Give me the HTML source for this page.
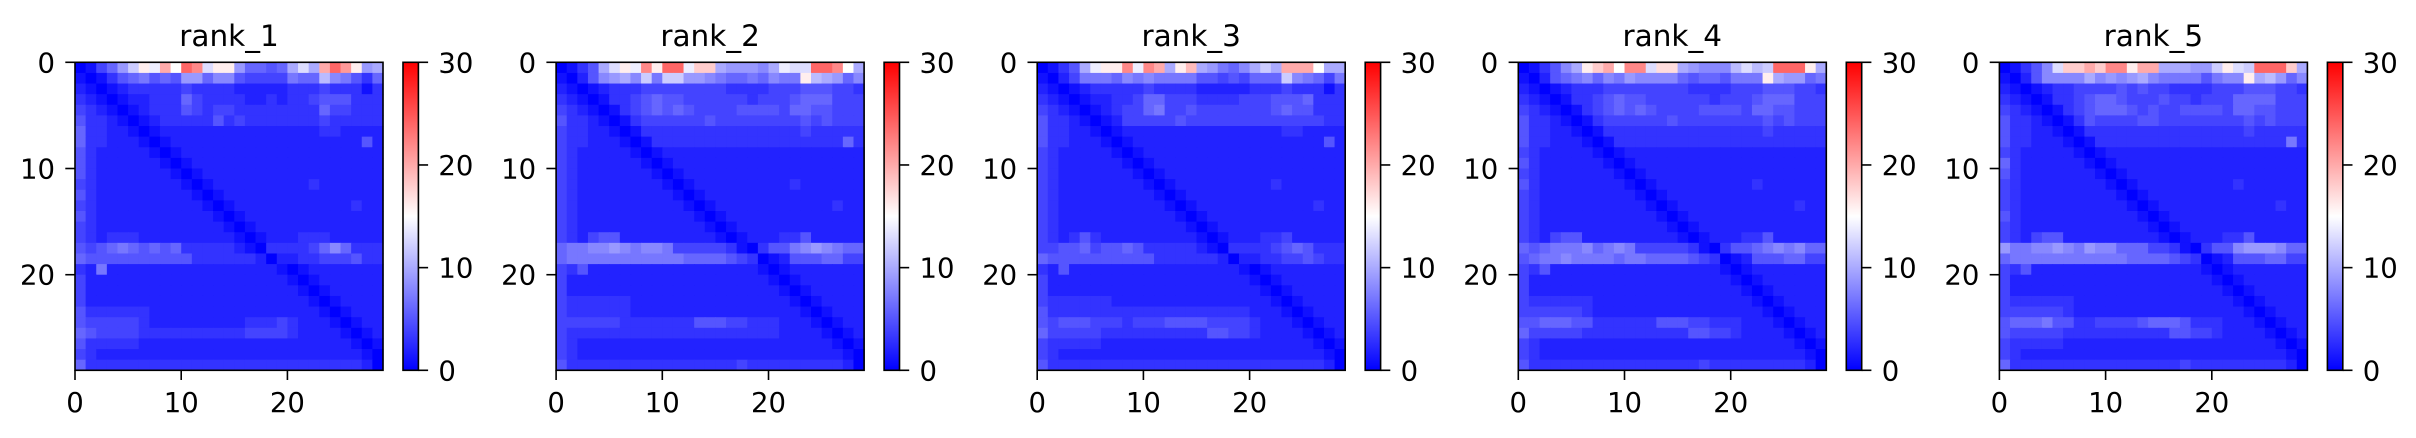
<!DOCTYPE html>
<html><head><meta charset="utf-8"><style>
html,body{margin:0;padding:0;background:#fff;}
svg{display:block;font-family:"DejaVu Sans","Liberation Sans",sans-serif;}
</style></head><body>
<svg id="chart" width="2416" height="438" viewBox="0 0 2416 438" xmlns="http://www.w3.org/2000/svg">
<defs>
<linearGradient id="bwr" x1="0" y1="1" x2="0" y2="0">
<stop offset="0" stop-color="#0000ff"/><stop offset="0.5" stop-color="#ffffff"/><stop offset="1" stop-color="#ff0000"/>
</linearGradient>
</defs>
</svg>
<script>
const titles = ["rank_1","rank_2","rank_3","rank_4","rank_5"];
const axisTicks = [0,10,20];
const cbarTicks = [0,10,20,30];
const vmin = 0, vmax = 30;
const P1 = [
"01469cgekfomdgg96656adakolg9a",
"10135675659968854444766b87536",
"21012333334333322222333433313",
"32101223336433332232334555333",
"43210123335434433333333644333",
"53321012333335343333333433333",
"63322101222222222222222332222",
"63322210122222222222222222252",
"53222221012222222222222222222",
"53222222101222222222222222222",
"53222222210122222222222222222",
"43222222221012222222223222222",
"53222222222101222222222222222",
"43222222222210122222222222322",
"53222222222221012222222222222",
"43222222222222101222222222222",
"43233322222222210122233322222",
"54567656563333321033334686333",
"65555555555333333202233444533",
"32722222222222222221012222222",
"42222222222222222222101222222",
"42222222222222222222210122222",
"42222222222222222222221012222",
"53333332222222222222222101222",
"54444432222222223334322210122",
"65444433333333334444322221012",
"53333322222222222222222222101",
"43222222222222222222222222210",
"63333333333333333333333333320"];
const P2 = [
"0135adgemgooeiia9998aeddoomfa",
"102589a8c7cc99876676877gba968",
"21012333444444443333444555443",
"32101334565544444434445666444",
"43210134565654444555546655444",
"53321013444444544444444545444",
"43322101333333333333333433333",
"43322210133333333333333333363",
"43222221012222222222222222222",
"43222222101222222222222222222",
"43222222210122222222222222222",
"43222222221012222222223222222",
"43222222222101222222222222222",
"43222222222210122222222222322",
"43222222222221012222222222222",
"43222222222222101222222222222",
"43245522222222210122233522222",
"67788987887444443103557898766",
"67777777777766665430125556644",
"43522222222222222221012222222",
"42222222222222222222101222222",
"42222222222222222222210122222",
"43333332222222222222221012222",
"43333332222222222222222101222",
"44444433333335554433322210122",
"43333333333333333333322221012",
"43222222222222222222222222101",
"43222222222222222222222222210",
"53333333333333333433333333320"];
const P3 = [
"0135aeggmemkagja9768acakkkfaa",
"10247776878777755454666c87647",
"21012333334333322222333433313",
"32101223346644433334445556333",
"43210123446744544444445655333",
"53321012444445444444444444433",
"53322101222222222222222332222",
"53322210122222222222222222252",
"43222221012222222222222222222",
"43222222101222222222222222222",
"43222222210122222222222222222",
"43222222221012222222223222222",
"43222222222101222222222222222",
"43222222222210122222222222322",
"43222222222221012222222222222",
"43222222222222101222222222222",
"43235322222222210122233422222",
"44556455653333321033334565333",
"65555555555333333202233445433",
"32522222222222222221012222222",
"42222222222222222222101222222",
"42222222222222222222210122222",
"43333332222222222222221012222",
"53333333333333333333222101222",
"54555444344455554444322210122",
"64444433333333335544322221012",
"43333322222222222222222222101",
"43222222222222222222222222210",
"53333333333333333333333333320"];
const P4 = [
"01358agikfmmdhha9888bdbcoooga",
"10256786879888865665777ga9967",
"21012333444444443333444555443",
"32101334565544444434445666444",
"43210134565654444555546655444",
"53321013444444544444444545444",
"53322101333333333333333433333",
"53322210133333333333333333333",
"43222221012222222222222222222",
"53222222101222222222222222222",
"43222222210122222222222222222",
"53222222221012222222223222222",
"43222222222101222222222222222",
"43222222222210122222222222322",
"43222222222221012222222222222",
"43222222222222101222222222222",
"43245522222222210122233522222",
"65677786787444443103556787866",
"56778777767766665430125556644",
"43522222222222222221012222222",
"42222222222222222222101222222",
"42222222222222222222210122222",
"43333332222222222222221012222",
"44444432222222222222222101222",
"55666553333335554433322210122",
"64444433333333335544322221012",
"43222222222222222222222222101",
"43222222222222222222222222210",
"53333333333333333433333333320"];
const P5 = [
"01358diikimmgkkaaa99cgdcoooia",
"10258888a8989a877775788gab968",
"21012334444545443333444555443",
"32101334566544454434446666444",
"43210134566654544555546655444",
"53321013544445544444444545444",
"53322101333333333333333433333",
"53322210133333333333333333373",
"43222221012222222222222222222",
"63222222101222222222222222222",
"53222222210122222222222222222",
"43222222221012222222223222222",
"43222222222101222222222222222",
"43222222222210122222222222322",
"53222222222221012222222222222",
"43222222222222101222222222222",
"43245522222222210122233522222",
"97788987988666443103558999866",
"67777777777766665430125556644",
"43522222222222222221012222222",
"42222222222222222222101222222",
"42222222222222222222210122222",
"43333332222222222222221012222",
"44444432222222222222222101222",
"56667553344445666533322210122",
"54444433333333335544322221012",
"43333322222222222222222222101",
"43222222222222222222222222210",
"63333333333333333433333333320"];
const panels = [P1,P2,P3,P4,P5];

const NS = "http://www.w3.org/2000/svg";
const svg = document.getElementById('chart');
const N = 29;
const W = 308, TOP = 62.3, H = 308, PANEL_DX = 481.1, LEFT0 = 75;
function mk(tag, attrs, parent){const e=document.createElementNS(NS,tag);for(const k in attrs)e.setAttribute(k,attrs[k]);(parent||svg).appendChild(e);return e;}
function colorOf(v){
  let t=(v-vmin)/(vmax-vmin); t=Math.max(0,Math.min(1,t));
  let r,g,b;
  if(t<0.5){r=g=Math.round(2*t*255);b=255;}else{r=255;g=b=Math.round((2-2*t)*255);}
  return `rgb(${r},${g},${b})`;
}
function parseVal(ch){const v=parseInt(ch,36);return isNaN(v)?2:v;}
panels.forEach((rows,p)=>{
  const ox = LEFT0 + p*PANEL_DX;
  const xs = v => ox + v*W/N;
  const ys = v => TOP + v*H/N;
  const g = mk('g',{});
  
  
  for(let r=0;r<N;r++){
    const row = rows[r]||"";
    for(let c=0;c<N;c++){
      const v = parseVal(row[c]||'2');
      const rect = mk('rect',{x:xs(c).toFixed(2),y:ys(r).toFixed(2),width:(W/N+0.6).toFixed(2),height:(H/N+0.6).toFixed(2),fill:colorOf(v)},g);
      
      
    }
  }
  const frame = mk('rect',{x:ox,y:TOP,width:W,height:H,fill:'none',stroke:'#000','stroke-width':1.6},g);
  
  
  const title = mk('text',{x:ox+W/2,y:46,'text-anchor':'middle','font-size':29.5},g);
  title.textContent = titles[p];
  
  
  axisTicks.forEach(t=>{
    const ty = ys(t);
    mk('line',{x1:ox-9.7,x2:ox,y1:ty,y2:ty,stroke:'#000','stroke-width':1.6},g);
    const yl = mk('text',{x:ox-20,y:ty+10,'text-anchor':'end','font-size':27.5},g);
    yl.textContent = t;
    
    
    const tx = xs(t);
    mk('line',{x1:tx,x2:tx,y1:TOP+H,y2:TOP+H+9.7,stroke:'#000','stroke-width':1.6},g);
    const xl = mk('text',{x:tx,y:412,'text-anchor':'middle','font-size':27.5},g);
    xl.textContent = t;
    
    
  });
  const cbx = ox+328, cbw = 15.4;
  const cb = mk('rect',{x:cbx,y:TOP,width:cbw,height:H,fill:'url(#bwr)',stroke:'#000','stroke-width':1.6},g);
  
  
  cbarTicks.forEach(v=>{
    const cy = TOP+H - (v-vmin)/(vmax-vmin)*H;
    mk('line',{x1:cbx+cbw,x2:cbx+cbw+9.7,y1:cy,y2:cy,stroke:'#000','stroke-width':1.6},g);
    const cl = mk('text',{x:cbx+cbw+20,y:cy+10,'font-size':27.5},g);
    cl.textContent = v;
    
    
  });
});
</script>
</body></html>
